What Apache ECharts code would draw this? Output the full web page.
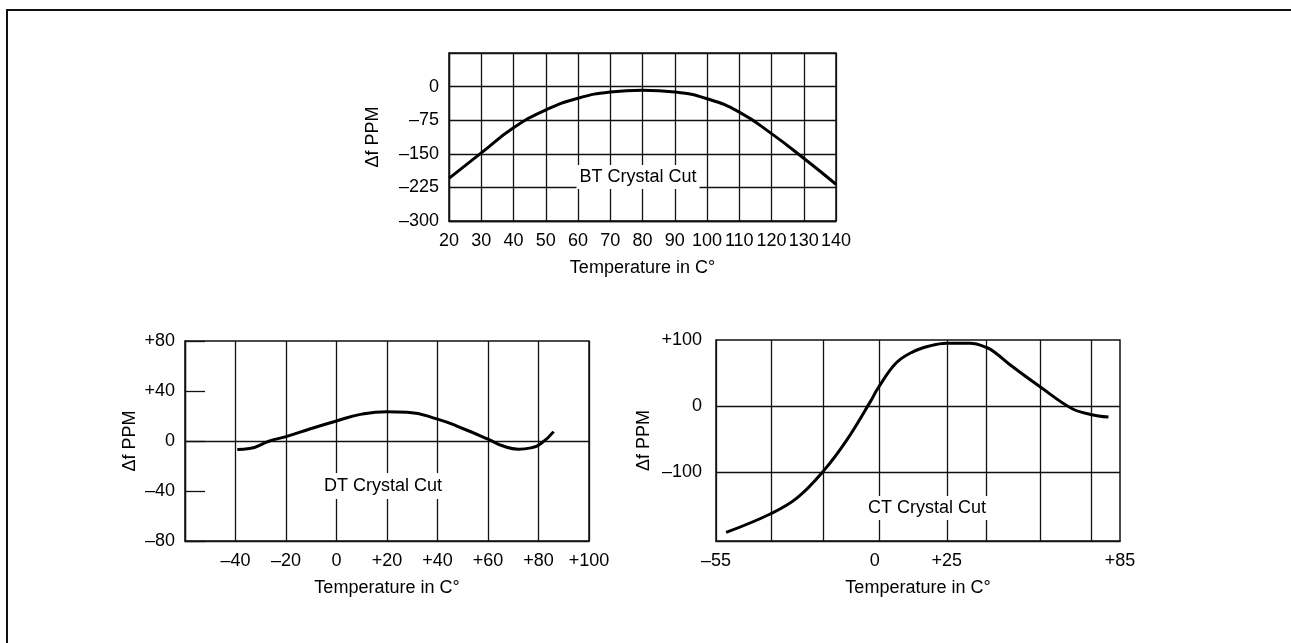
<!DOCTYPE html>
<html>
<head>
<meta charset="utf-8">
<script src="https://cdn.jsdelivr.net/npm/echarts@6/dist/echarts.min.js"></script>
<style>
html, body { margin: 0; padding: 0; background: #fff; }
#frame { position: absolute; left: 6px; top: 9px; width: 1300px; height: 700px;
         border-left: 2px solid #111; border-top: 2px solid #111; }
#chart { position: absolute; left: 0; top: 0; width: 1291px; height: 643px; }
</style>
</head>
<body>
<div id="frame"></div>
<div id="chart"></div>
<script>
// BT cut: temperature (C) vs delta f (PPM)
var btCurve = [[20,-205],[30,-148],[40,-92],[50,-52],[60,-26],[70,-12],[80,-8],
               [90,-12],[100,-27],[110,-57],[120,-105],[130,-160],[140,-218]];
// DT cut
var dtCurve = [[-39.3,-6.7],[-34.5,-6],[-26.5,0],[-20,3.5],[-10,10],[0,16],[10,21.5],
               [20,23.5],[28,23],[40,17.5],[50,10],[60,1.5],[66,-4],[72,-6.5],
               [77,-5.5],[81,-2],[86,7.5]];
// CT cut
var ctCurve = [[-51.5,-192],[-36.2,-164],[-27,-140],[-17.8,-99],[-9.7,-52],[-1.3,8],
               [1,26],[7.4,65],[13.2,82],[19,91],[25,95],[33,95],[38.6,89],[42,80],
               [47,62],[57.3,29],[68.3,-4],[74.8,-13],[81,-17]];

// CT chart grid lines sit at uneven temperatures
var ctGridX = [-36, -18, 1.5, 25, 38.5, 57.5, 75];
var ctGridY = [0, -100];
var ctTicksX = [-55, 0, 25, 85];
var ctTicksY = [-100, 0, 100];

var chart = echarts.init(document.getElementById('chart'));

var FONT = 'Liberation Sans, Arial, sans-serif';
var INK = '#000';

function signed(v) {
    if (v < 0) return '\u2013' + Math.abs(v);
    if (v > 0) return '+' + v;
    return '0';
}
function plain(v) {
    return v < 0 ? '\u2013' + Math.abs(v) : String(v);
}

var txt = { color: INK, fontFamily: FONT, fontSize: 18 };
var line = { color: '#111', width: 1.3 };

function xAx(idx, o) {
    return Object.assign({
        type: 'value', gridIndex: idx,
        name: 'Temperature in C\u00b0', nameLocation: 'middle', nameGap: 38,
        nameTextStyle: txt,
        axisLine: { show: true, onZero: false, lineStyle: line },
        axisTick: { show: false },
        splitLine: { show: true, lineStyle: line }
    }, o);
}
function yAx(idx, o) {
    return Object.assign({
        type: 'value', gridIndex: idx,
        name: '\u0394f PPM', nameLocation: 'middle', nameRotate: 90,
        nameTextStyle: txt,
        axisLine: { show: true, onZero: false, lineStyle: line },
        axisTick: { show: false },
        splitLine: { show: true, lineStyle: line }
    }, o);
}

var curveStyle = { color: '#000', width: 3 };

option = {
    backgroundColor: 'transparent',
    animation: false,
    grid: [
        { left: 449, top: 53, width: 387, height: 168, show: true, borderColor: '#111', borderWidth: 1.5 },
        { left: 185, top: 341, width: 404, height: 200, show: true, borderColor: '#111', borderWidth: 1.5 },
        { left: 716, top: 340, width: 404, height: 201, show: true, borderColor: '#111', borderWidth: 1.5 }
    ],
    xAxis: [
        xAx(0, { min: 20, max: 140, interval: 10,
                 axisLabel: Object.assign({ margin: 11, formatter: plain }, txt) }),
        xAx(1, { min: -60, max: 100, interval: 20,
                 axisLabel: Object.assign({ margin: 11, formatter: function (v) {
                     return v === -60 ? '' : signed(v);
                 } }, txt) }),
        xAx(2, { min: -55, max: 85, splitLine: { show: false },
                 axisLabel: Object.assign({ margin: 11, customValues: ctTicksX, formatter: signed }, txt) })
    ],
    yAxis: [
        yAx(0, { min: -300, max: 75, interval: 75, nameGap: 67,
                 axisLabel: Object.assign({ margin: 10, formatter: function (v) {
                     return v === 75 ? '' : plain(v);
                 } }, txt) }),
        yAx(1, { min: -80, max: 80, interval: 40, nameGap: 46,
                 splitLine: { show: false },
                 axisTick: { show: true, inside: true, length: 20, lineStyle: line },
                 axisLabel: Object.assign({ margin: 10, formatter: signed }, txt) }),
        yAx(2, { min: -205, max: 100, nameGap: 63,
                 splitLine: { show: false },
                 axisLabel: Object.assign({ margin: 14, customValues: ctTicksY, formatter: signed }, txt) })
    ],
    series: [
        { name: 'BT', type: 'line', xAxisIndex: 0, yAxisIndex: 0, data: btCurve,
          smooth: 0.5, showSymbol: false, lineStyle: curveStyle, z: 5 },
        { name: 'DT', type: 'line', xAxisIndex: 1, yAxisIndex: 1, data: dtCurve,
          smooth: 0.5, showSymbol: false, lineStyle: curveStyle, z: 5,
          markLine: { silent: true, symbol: ['none', 'none'], label: { show: false },
                      lineStyle: { color: '#111', width: 1.3, type: 'solid' },
                      data: [{ yAxis: 0 }] } },
        { name: 'CT', type: 'line', xAxisIndex: 2, yAxisIndex: 2, data: ctCurve,
          smooth: 0.4, showSymbol: false, lineStyle: curveStyle, z: 5,
          markLine: { silent: true, symbol: ['none', 'none'], label: { show: false },
                      lineStyle: { color: '#111', width: 1.3, type: 'solid' },
                      data: ctGridX.map(function (v) { return { xAxis: v }; })
                          .concat(ctGridY.map(function (v) { return { yAxis: v }; })) } }
    ],
    graphic: [
        { type: 'text', x: 638, y: 177, z: 100,
          style: { text: 'BT Crystal Cut', font: '18px ' + FONT, fill: INK, align: 'center',
                   verticalAlign: 'middle', backgroundColor: '#fff', padding: [3, 3] } },
        { type: 'text', x: 383, y: 486, z: 100,
          style: { text: 'DT Crystal Cut', font: '18px ' + FONT, fill: INK, align: 'center',
                   verticalAlign: 'middle', backgroundColor: '#fff', padding: [4, 3] } },
        { type: 'text', x: 927, y: 508, z: 100,
          style: { text: 'CT Crystal Cut', font: '18px ' + FONT, fill: INK, align: 'center',
                   verticalAlign: 'middle', backgroundColor: '#fff', padding: [3, 3] } }
    ]
};
chart.setOption(option);
</script>
</body>
</html>
